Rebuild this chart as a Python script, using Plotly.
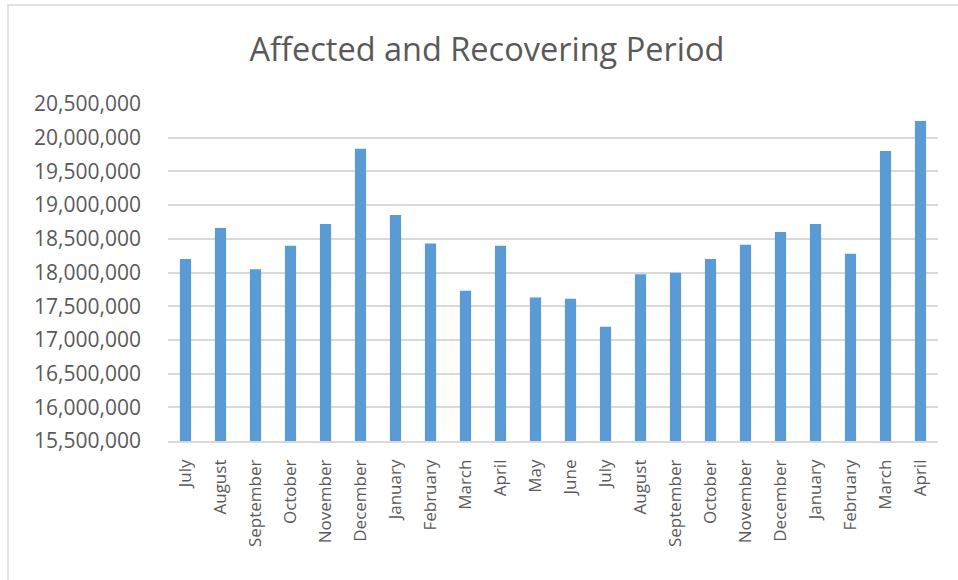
import plotly.graph_objects as go

# Monthly totals across the affected and recovering period
months = [
    "July", "August", "September", "October", "November", "December",
    "January", "February", "March", "April", "May", "June",
    "July", "August", "September", "October", "November", "December",
    "January", "February", "March", "April",
]
values = [
    18200000, 18660000, 18050000, 18396000, 18718000, 19837000,
    18852000, 18430000, 17728000, 18396000, 17629000, 17610000,
    17194000, 17973000, 17995000, 18199000, 18411000, 18600000,
    18718000, 18277000, 19803000, 20248000,
]
y_ticks = list(range(15500000, 20500001, 500000))

positions = list(range(len(months)))

W, H = 958, 580
L, R, T, B = 168, 20, 104, 139
pw, ph = W - L - R, H - T - B

fig = go.Figure(
    go.Bar(
        x=positions,
        y=values,
        marker=dict(color="#5B9BD5", line=dict(width=0)),
        hovertemplate="%{text}: %{y:,}<extra></extra>",
        text=months,
        textposition="none",
    )
)

text_color = "#595959"
grid_color = "#D9D9D9"

fig.update_layout(
    width=W,
    height=H,
    margin=dict(l=L, r=R, t=T, b=B, pad=0),
    paper_bgcolor="white",
    plot_bgcolor="white",
    bargap=0.68,
    showlegend=False,
    font=dict(family="Open Sans", color=text_color),
    title=dict(
        text="Affected and Recovering Period",
        font=dict(family="Open Sans", size=32.5, color=text_color),
        x=487 / W,
        xref="container",
        xanchor="center",
        y=1 - 50 / H,
        yref="container",
        yanchor="middle",
    ),
    xaxis=dict(
        range=[-0.5, len(months) - 0.5],
        tickmode="array",
        tickvals=positions,
        ticktext=months,
        tickangle=-90,
        tickfont=dict(size=17, color=text_color),
        showgrid=False,
        zeroline=False,
        showline=True,
        linecolor=grid_color,
        linewidth=1.5,
        ticks="",
        ticklabelstandoff=10,
        fixedrange=True,
    ),
    yaxis=dict(
        range=[y_ticks[0], y_ticks[-1]],
        tickmode="array",
        tickvals=y_ticks,
        tickformat=",d",
        tickfont=dict(size=21, color=text_color),
        showgrid=True,
        gridcolor=grid_color,
        gridwidth=1.5,
        zeroline=False,
        showline=False,
        ticks="",
        ticklabelstandoff=26,
        fixedrange=True,
    ),
    shapes=[
        dict(
            type="rect",
            xref="paper",
            yref="paper",
            x0=(8 - L) / pw,
            x1=(W + 6 - L) / pw,
            y0=(H - B - (H + 6)) / ph,
            y1=(H - B - 5) / ph,
            line=dict(color="#D9D9D9", width=1.5),
            fillcolor="rgba(0,0,0,0)",
            layer="below",
        )
    ],
)

fig.write_html("out.html")
